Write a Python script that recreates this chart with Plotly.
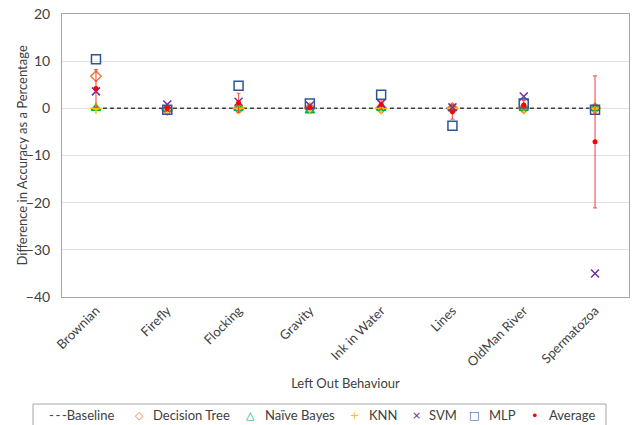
import plotly.graph_objects as go

categories = ["Brownian", "Firefly", "Flocking", "Gravity", "Ink in Water", "Lines", "OldMan River", "Spermatozoa"]
baseline = [0, 0, 0, 0, 0, 0, 0, 0]
decision_tree = [6.8, -0.3, 0.0, 0.0, 0.0, 0.0, 0.0, 0.0]
naive_bayes = [0.0, -0.2, 0.0, -0.5, 0.0, 0.0, 0.0, 0.0]
knn = [0.0, -0.2, 0.0, 0.0, 0.0, 0.0, 0.0, 0.0]
svm = [3.6, 0.8, 1.4, 0.6, 1.0, 0.2, 2.5, -35.0]
mlp = [10.4, -0.3, 4.8, 1.0, 2.9, -3.7, 1.0, -0.3]
average = [4.2, -0.04, 1.2, 0.2, 0.8, -0.7, 0.7, -7.1]
average_err = [4.0, 0.5, 2.0, 0.5, 1.0, 1.6, 1.0, 14.0]
y_ticks = [20, 10, 0, -10, -20, -30, -40]

legend_names = ["Baseline", "Decision Tree", "Naïve Bayes", "KNN", "SVM", "MLP", "Average"]
legend_glyphs = ["- - -", "◇", "△", "+", "×", "□", "•"]
legend_colors = ["#404040", "#ED7D31", "#00B050", "#FFC000", "#7030A0", "#2F5597", "#FF0000"]

FONT = "Lato, 'Open Sans', sans-serif"
W, H = 635, 425
L, R, T, B = 62, 6, 14, 128
PW, PH = W - L - R, H - T - B


def px_x(px):
    return (px - L) / PW


def px_y(py):
    return (H - B - py) / PH


fig = go.Figure()
fig.add_trace(go.Scatter(x=categories, y=baseline, mode="lines", name="Baseline",
                         line=dict(color="#404040", width=1.5, dash="4px,3px")))
fig.add_trace(go.Scatter(x=categories, y=decision_tree, mode="markers", name="Decision Tree",
                         marker=dict(symbol="diamond-open", size=8, color="#ED7D31", line=dict(width=1.5))))
fig.add_trace(go.Scatter(x=categories, y=naive_bayes, mode="markers", name="Naïve Bayes",
                         marker=dict(symbol="triangle-up-open", size=8, color="#00B050", line=dict(width=1.5))))
fig.add_trace(go.Scatter(x=categories, y=knn, mode="markers", name="KNN",
                         marker=dict(symbol="cross-thin", size=8, color="#FFC000", line=dict(width=1.5, color="#FFC000"))))
fig.add_trace(go.Scatter(x=categories, y=svm, mode="markers", name="SVM",
                         marker=dict(symbol="x-thin", size=8, color="#7030A0", line=dict(width=1.5, color="#7030A0"))))
fig.add_trace(go.Scatter(x=categories, y=mlp, mode="markers", name="MLP",
                         marker=dict(symbol="square-open", size=9, color="#2F5597", line=dict(width=1.5))))
fig.add_trace(go.Scatter(x=categories, y=average, mode="markers", name="Average",
                         marker=dict(symbol="circle", size=5, color="#FF0000"),
                         error_y=dict(type="data", array=average_err, visible=True,
                                      color="rgba(240,40,40,0.75)", thickness=1.2, width=2)))

# Legend drawn as text (like the reference's boxed legend row)
glyph_px = [None, 139, 250, 354, 416, 474, 535]
text_px = [47, 151, 263, 367, 427, 487, 547]
annotations = []
for i, name in enumerate(legend_names):
    if i == 0:
        annotations.append(dict(xref="paper", yref="paper", x=px_x(text_px[i]), y=px_y(415),
                                xanchor="left", yanchor="middle", showarrow=False,
                                text="-\u2009-\u2009-" + name,
                                font=dict(size=13, color="#404040", family=FONT)))
    else:
        annotations.append(dict(xref="paper", yref="paper", x=px_x(glyph_px[i]), y=px_y(415),
                                xanchor="center", yanchor="middle", showarrow=False,
                                text=legend_glyphs[i],
                                font=dict(size=11 if i != 6 else 13, color=legend_colors[i],
                                          family="DejaVu Sans")))
        annotations.append(dict(xref="paper", yref="paper", x=px_x(text_px[i]), y=px_y(415),
                                xanchor="left", yanchor="middle", showarrow=False,
                                text=name, font=dict(size=13, color="#404040", family=FONT)))

# y-axis title
annotations.append(dict(xref="paper", yref="paper", x=px_x(21), y=0.5, textangle=-90,
                        xanchor="center", yanchor="middle", showarrow=False,
                        text="Difference in Accuracy as a Percentage",
                        font=dict(size=13, color="#404040", family=FONT)))

fig.update_layout(
    width=W, height=H,
    margin=dict(l=L, r=R, t=T, b=B),
    paper_bgcolor="white", plot_bgcolor="white",
    font=dict(family=FONT, size=13, color="#404040"),
    showlegend=False,
    annotations=annotations,
    shapes=[dict(type="rect", xref="paper", yref="paper",
                 x0=px_x(33), x1=px_x(606), y0=px_y(404), y1=px_y(440),
                 line=dict(color="#A6A6A6", width=1), fillcolor="rgba(0,0,0,0)")],
)
fig.update_xaxes(
    type="category", tickangle=-45, showgrid=False, ticks="", automargin=False,
    showline=True, linecolor="#A6A6A6", linewidth=1, mirror=True,
    title=dict(text="Left Out Behaviour", standoff=10, font=dict(size=13)),
    tickfont=dict(size=13),
)
fig.update_yaxes(
    range=[-40, 20], tickvals=y_ticks, showgrid=True, gridcolor="#E0E0E0", gridwidth=1,
    zeroline=False, ticks="", showline=True, linecolor="#A6A6A6", linewidth=1, mirror=True,
    automargin=False, ticklabelstandoff=8,
    tickfont=dict(size=14),
)

fig.write_html("out.html", config={"displayModeBar": False},
               post_script="document.body.style.margin='0';document.body.style.overflow='hidden';")
